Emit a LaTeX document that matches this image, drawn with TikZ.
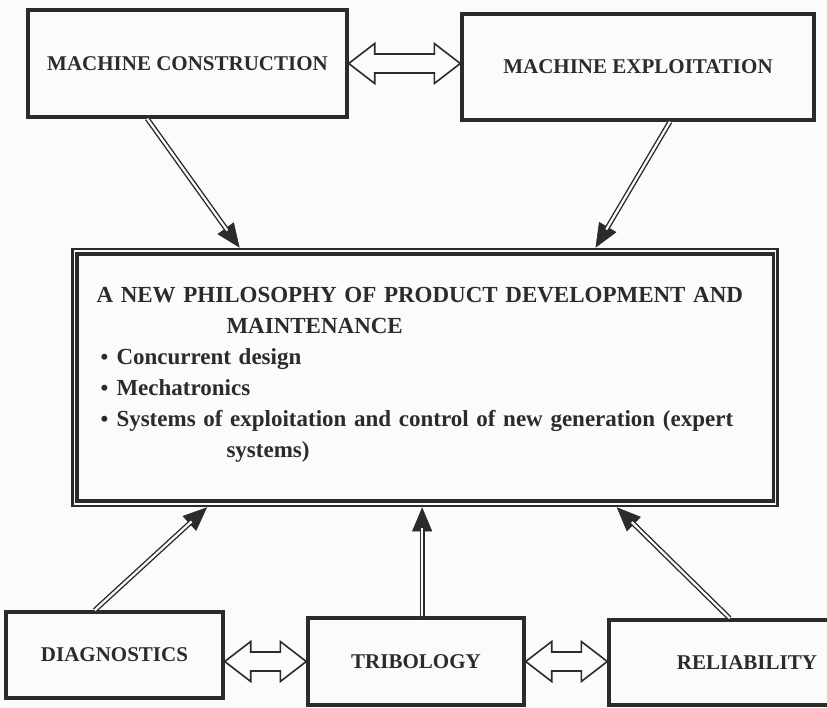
\documentclass[tikz,border=0pt]{standalone}
\usepackage{fontspec}
\setmainfont{Liberation Serif}
\usetikzlibrary{positioning,arrows.meta,calc}
\definecolor{ink}{HTML}{2B2B2B}
\definecolor{paper}{HTML}{FBFBFA}

\tikzset{
  box/.style={draw=ink, line width=3.4pt, text=ink, inner sep=0pt,
    font=\fontsize{21}{25}\selectfont\bfseries},
  feedtip/.style={draw=ink, line width=0.6pt, -{Triangle[length=24pt,width=20pt]}},
  feedshaft/.style={draw=ink, line width=1.4pt, double=paper, double distance=2.2pt,
    shorten >=21pt},
  blockarrow/.style={draw=ink, line width=1.6pt, fill=paper, line join=miter}
}

% hollow two-headed arrow lying flat between two points
\newcommand{\bothways}[2]{%
  \draw[blockarrow] (#1) -- ($(#1)+(26,-20)$) -- ($(#1)+(26,-9.5)$)
    -- ($(#2)+(-26,-9.5)$) -- ($(#2)+(-26,-20)$) -- (#2)
    -- ($(#2)+(-26,20)$) -- ($(#2)+(-26,9.5)$)
    -- ($(#1)+(26,9.5)$) -- ($(#1)+(26,20)$) -- cycle;}
\newcommand{\blt}{\hspace*{4pt}\makebox[16pt][l]{\raisebox{0.5pt}{\fontsize{22}{22}\selectfont\textbullet}}}

\begin{document}
\begin{tikzpicture}[x=1pt,y=-1pt]
  \fill[paper] (0,0) rectangle (827,707);
  \useasboundingbox (0,0) rectangle (827,707);

  % the two sources on top
  \node[box, minimum width=319pt, minimum height=107pt] (mc) at (187.5,63.5) {MACHINE CONSTRUCTION};
  \node[box, minimum width=352pt, minimum height=106pt] (me) at (638,67) {MACHINE EXPLOITATION};

  % the middle box, framed twice
  \node[box, line width=2.6pt, minimum width=705pt, minimum height=257pt,
        text width=657pt, inner xsep=24pt, align=left,
        font=\fontsize{23}{31}\selectfont\bfseries] (phil) at (425,377.5)
    {A NEW PHILOSOPHY OF PRODUCT DEVELOPMENT AND\\
     \hspace*{130pt}MAINTENANCE\\
     \blt Concurrent design\\
     \blt Mechatronics\\
     \blt Systems of exploitation and control of new generation (expert\\
     \hspace*{130pt}systems)\par\vspace{5pt}};
  \draw[ink, line width=3.6pt] ([shift={(5.5,6.5)}]phil.north west) rectangle ([shift={(-5.5,-6.5)}]phil.south east);

  % the three sources underneath
  \node[box, minimum width=217pt, minimum height=86pt] (diag) at (114.5,655) {DIAGNOSTICS};
  \node[box, minimum width=216pt, minimum height=87pt] (trib) at (416,661.5) {TRIBOLOGY};
  \node[box, minimum width=276pt, minimum height=85pt] (rel) at (747,662.5) {RELIABILITY};

  % where the feeding arrows leave and arrive
  \coordinate (mcout) at ($(mc.south west)!0.375!(mc.south east)$);
  \coordinate (mcin)  at ($(phil.north west)!0.238!(phil.north east)$);
  \coordinate (meout) at ($(me.south west)!0.59!(me.south east)$);
  \coordinate (mein)  at ($(phil.north west)!0.741!(phil.north east)$);
  \coordinate (diout) at ($(diag.north west)!0.41!(diag.north east)$);
  \coordinate (diin)  at ($(phil.south west)!0.192!(phil.south east)$);
  \coordinate (trout) at ($(trib.north west)!0.528!(trib.north east)$);
  \coordinate (trin)  at (trout |- phil.south);
  \coordinate (reout) at ($(rel.north west)!0.438!(rel.north east)$);
  \coordinate (rein)  at ($(phil.south west)!0.771!(phil.south east)$);

  \foreach \a/\b in {mcout/mcin, meout/mein, diout/diin, trout/trin, reout/rein}{
    \draw[feedtip] (\a) -- (\b);
    \draw[feedshaft] (\a) -- (\b);}

  % exchanges between neighbours
  \bothways{mc.east}{me.west |- mc.east}
  \bothways{diag.east |- trib.west}{trib.west}
  \bothways{trib.east}{rel.west |- trib.east}
\end{tikzpicture}
\end{document}
